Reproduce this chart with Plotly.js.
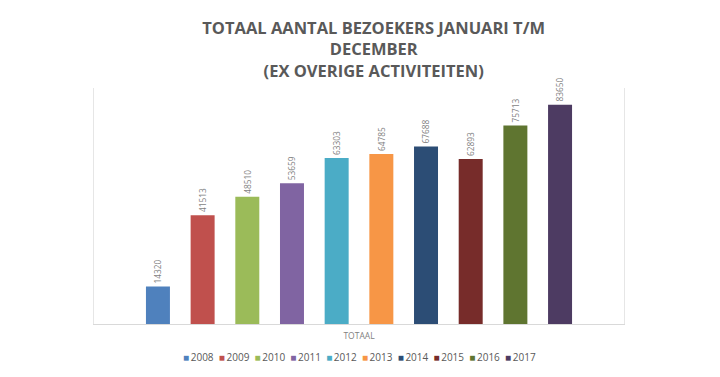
<!DOCTYPE html>
<html><head><meta charset="utf-8">
<script src="https://cdn.plot.ly/plotly-3.0.1.min.js"></script>
<style>html,body{margin:0;padding:0;background:#fff}#chart{width:720px;height:377px}</style>
</head><body><div id="chart"></div>
<script>
const years = ['2008','2009','2010','2011','2012','2013','2014','2015','2016','2017'];
const visitors = [14320, 41513, 48510, 53659, 63303, 64785, 67688, 62893, 75713, 83650];
const colors = ['#4F81BD','#C0504D','#9BBB59','#8064A2','#4BACC6','#F79646','#2C4D75','#772C2A','#5F7530','#4D3B62'];
const category = ['TOTAAL'];

const traces = years.map((y, i) => ({
  type: 'bar',
  name: y,
  x: category,
  y: [visitors[i]],
  marker: {color: colors[i]},
  text: [String(visitors[i])],
  textposition: 'outside',
  textangle: -90,
  cliponaxis: false,
  textfont: {family: 'Open Sans, sans-serif', size: 8.5, color: '#7f7f7f'},
  hoverinfo: 'skip',
  showlegend: false
}));

const legendText = years.map((y, i) =>
  '<span style="color:' + colors[i] + '">■</span>\u2009' + y).join('\u00a0\u00a0');

const layout = {
  width: 720, height: 377,
  margin: {l: 94, r: 96, t: 88, b: 53},
  paper_bgcolor: '#fff', plot_bgcolor: '#fff',
  title: {
    text: 'TOTAAL AANTAL BEZOEKERS JANUARI T/M<br>DECEMBER<br>(EX OVERIGE ACTIVITEITEN)',
    font: {family: 'Open Sans, sans-serif', size: 16.5, color: '#595959', weight: 'bold'},
    x: 0.519, xanchor: 'center', y: 0.91, yanchor: 'top'
  },
  barmode: 'group',
  bargap: 0.157,
  bargroupgap: 0.463,
  xaxis: {
    showline: true, linecolor: '#d9d9d9', linewidth: 1,
    ticks: '', ticklen: 0, ticklabelstandoff: 4,
    tickfont: {family: 'Open Sans, sans-serif', size: 8.5, color: '#7f7f7f'},
    showgrid: false
  },
  yaxis: {
    range: [0, 90000], showgrid: false, zeroline: false,
    showline: true, mirror: true, linecolor: '#e6e6e6', linewidth: 1,
    showticklabels: false, ticks: ''
  },
  showlegend: false,
  annotations: [{
    xref: 'paper', yref: 'paper', x: 0.5, y: -0.1, xanchor: 'center', yanchor: 'top',
    showarrow: false, text: legendText,
    font: {family: 'Open Sans, sans-serif', size: 10, color: '#595959'}
  }]
};

Plotly.newPlot('chart', traces, layout, {displayModeBar: false, staticPlot: true});
</script></body></html>
